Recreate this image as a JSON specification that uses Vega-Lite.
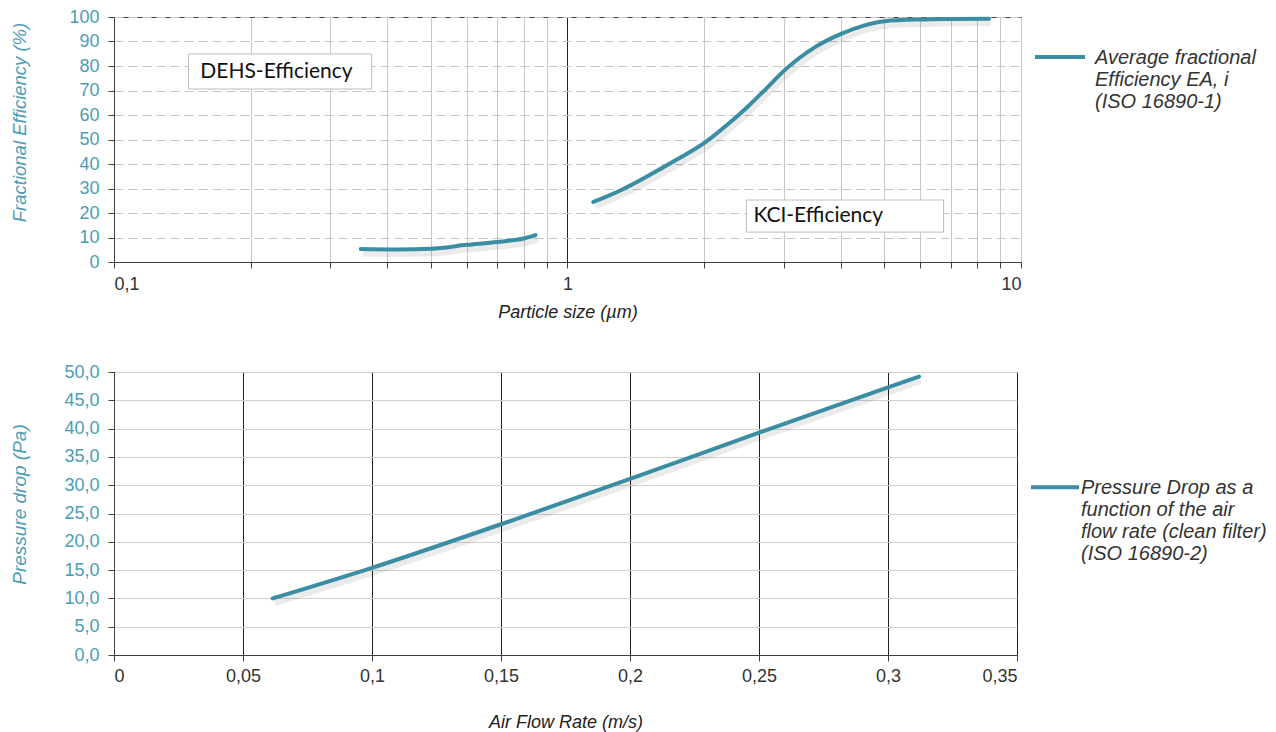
{
  "$schema": "https://vega.github.io/schema/vega-lite/v6.json",
  "padding": {"left": 10, "top": 7, "right": 5, "bottom": 5},
  "background": "white",
  "spacing": 40,
  "datasets": {
    "eff": [
      {"size": 0.35, "eff": 5.3, "segment": "DEHS", "series": "avg"},
      {"size": 0.42, "eff": 5.1, "segment": "DEHS", "series": "avg"},
      {"size": 0.5, "eff": 5.4, "segment": "DEHS", "series": "avg"},
      {"size": 0.6, "eff": 7.0, "segment": "DEHS", "series": "avg"},
      {"size": 0.7, "eff": 8.2, "segment": "DEHS", "series": "avg"},
      {"size": 0.8, "eff": 9.6, "segment": "DEHS", "series": "avg"},
      {"size": 0.85, "eff": 11.0, "segment": "DEHS", "series": "avg"},
      {"size": 1.14, "eff": 24.5, "segment": "KCl", "series": "avg"},
      {"size": 1.3, "eff": 29.0, "segment": "KCl", "series": "avg"},
      {"size": 1.5, "eff": 35.0, "segment": "KCl", "series": "avg"},
      {"size": 1.75, "eff": 42.0, "segment": "KCl", "series": "avg"},
      {"size": 2.0, "eff": 48.5, "segment": "KCl", "series": "avg"},
      {"size": 2.25, "eff": 56.0, "segment": "KCl", "series": "avg"},
      {"size": 2.5, "eff": 63.5, "segment": "KCl", "series": "avg"},
      {"size": 2.75, "eff": 71.0, "segment": "KCl", "series": "avg"},
      {"size": 3.0, "eff": 78.0, "segment": "KCl", "series": "avg"},
      {"size": 3.5, "eff": 87.5, "segment": "KCl", "series": "avg"},
      {"size": 4.0, "eff": 93.0, "segment": "KCl", "series": "avg"},
      {"size": 4.5, "eff": 96.5, "segment": "KCl", "series": "avg"},
      {"size": 5.0, "eff": 98.3, "segment": "KCl", "series": "avg"},
      {"size": 6.0, "eff": 99.0, "segment": "KCl", "series": "avg"},
      {"size": 7.0, "eff": 99.2, "segment": "KCl", "series": "avg"},
      {"size": 8.5, "eff": 99.3, "segment": "KCl", "series": "avg"}
    ],
    "notes": [
      {"x1": 0.146, "x2": 0.37, "y1": 70.6, "y2": 84.9, "tx": 0.155, "ty": 77.6, "label": "DEHS-Efficiency"},
      {"x1": 2.48, "x2": 6.75, "y1": 12.2, "y2": 25.3, "tx": 2.57, "ty": 18.8, "label": "KCI-Efficiency"}
    ],
    "dp": [
      {"flow": 0.0615, "dp": 10.0, "series": "dp"},
      {"flow": 0.1, "dp": 15.4, "series": "dp"},
      {"flow": 0.15, "dp": 23.1, "series": "dp"},
      {"flow": 0.2, "dp": 31.1, "series": "dp"},
      {"flow": 0.25, "dp": 39.3, "series": "dp"},
      {"flow": 0.3, "dp": 47.3, "series": "dp"},
      {"flow": 0.312, "dp": 49.2, "series": "dp"}
    ]
  },
  "config": {
    "view": {"stroke": "#404040", "strokeWidth": 1},
    "axis": {
      "labelFont": "Liberation Sans",
      "titleFont": "Liberation Sans",
      "domainColor": "#404040",
      "tickColor": "#404040",
      "tickSize": 6,
      "labelOverlap": false,
      "titleFontStyle": "italic",
      "titleFontWeight": "normal",
      "labelFontSize": 18
    },
    "legend": {
      "labelFont": "Liberation Sans",
      "labelFontStyle": "italic",
      "labelFontSize": 20,
      "labelColor": "#333333",
      "labelLimit": 300
    }
  },
  "resolve": {"legend": {"color": "independent"}, "scale": {"color": "independent"}},
  "vconcat": [
    {
      "width": 907,
      "height": 245,
      "layer": [
        {
          "data": {"name": "notes"},
          "mark": {"type": "rect", "fill": "white", "stroke": "#bdbdbd", "strokeWidth": 1},
          "encoding": {
            "x": {"field": "x1", "type": "quantitative", "scale": {"type": "log", "domain": [0.1, 10]},
              "axis": {"title": "Particle size (µm)", "titleFontSize": 18, "titleColor": "#222222", "titlePadding": 10,
                "values": [0.1, 0.2, 0.3, 0.4, 0.5, 0.6, 0.7, 0.8, 0.9, 1, 2, 3, 4, 5, 6, 7, 8, 9, 10],
                "labelExpr": "datum.value == 0.1 ? '0,1' : (datum.value == 1 ? '1' : (datum.value == 10 ? '10' : ''))",
                "labelColor": "#333333", "labelPadding": 7, "labelOverlap": false, "grid": true,
                "gridColor": {"condition": {"test": "datum.value == 1", "value": "#222222"}, "value": "#c8c8c8"}}},
            "x2": {"field": "x2"},
            "y": {"field": "y1", "type": "quantitative", "scale": {"domain": [0, 100]},
              "axis": {"title": "Fractional Efficiency (%)", "titleFontSize": 18.5, "titleColor": "#4a9db5", "titlePadding": 39, "titleY": 105,
                "values": [0, 10, 20, 30, 40, 50, 60, 70, 80, 90, 100],
                "labelColor": "#4a9db5", "labelPadding": 9, "labelOverlap": false, "labelBound": false,
                "grid": true, "gridDash": [9, 5], "gridColor": "#c4c4c4"}},
            "y2": {"field": "y2"}
          }
        },
        {
          "data": {"name": "notes"},
          "mark": {"type": "text", "font": "Lato", "fontSize": 21, "color": "#111111", "align": "left", "baseline": "middle"},
          "encoding": {
            "x": {"field": "tx", "type": "quantitative", "scale": {"type": "log", "domain": [0.1, 10]},
              "axis": {"title": "Particle size (µm)", "titleFontSize": 18, "titleColor": "#222222", "titlePadding": 10,
                "values": [0.1, 0.2, 0.3, 0.4, 0.5, 0.6, 0.7, 0.8, 0.9, 1, 2, 3, 4, 5, 6, 7, 8, 9, 10],
                "labelExpr": "datum.value == 0.1 ? '0,1' : (datum.value == 1 ? '1' : (datum.value == 10 ? '10' : ''))",
                "labelColor": "#333333", "labelPadding": 7, "labelOverlap": false, "grid": true,
                "gridColor": {"condition": {"test": "datum.value == 1", "value": "#222222"}, "value": "#c8c8c8"}}},
            "y": {"field": "ty", "type": "quantitative", "scale": {"domain": [0, 100]},
              "axis": {"title": "Fractional Efficiency (%)", "titleFontSize": 18.5, "titleColor": "#4a9db5", "titlePadding": 39, "titleY": 105,
                "values": [0, 10, 20, 30, 40, 50, 60, 70, 80, 90, 100],
                "labelColor": "#4a9db5", "labelPadding": 9, "labelOverlap": false, "labelBound": false,
                "grid": true, "gridDash": [9, 5], "gridColor": "#c4c4c4"}},
            "text": {"field": "label"}
          }
        },
        {
          "data": {"name": "eff"},
          "mark": {"type": "line", "interpolate": "monotone", "strokeWidth": 7, "color": "#000000", "opacity": 0.08, "xOffset": 2, "yOffset": 4},
          "encoding": {
            "x": {"field": "size", "type": "quantitative", "scale": {"type": "log", "domain": [0.1, 10]},
              "axis": {"title": "Particle size (µm)", "titleFontSize": 18, "titleColor": "#222222", "titlePadding": 10,
                "values": [0.1, 0.2, 0.3, 0.4, 0.5, 0.6, 0.7, 0.8, 0.9, 1, 2, 3, 4, 5, 6, 7, 8, 9, 10],
                "labelExpr": "datum.value == 0.1 ? '0,1' : (datum.value == 1 ? '1' : (datum.value == 10 ? '10' : ''))",
                "labelColor": "#333333", "labelPadding": 7, "labelOverlap": false, "grid": true,
                "gridColor": {"condition": {"test": "datum.value == 1", "value": "#222222"}, "value": "#c8c8c8"}}},
            "y": {"field": "eff", "type": "quantitative", "scale": {"domain": [0, 100]},
              "axis": {"title": "Fractional Efficiency (%)", "titleFontSize": 18.5, "titleColor": "#4a9db5", "titlePadding": 39, "titleY": 105,
                "values": [0, 10, 20, 30, 40, 50, 60, 70, 80, 90, 100],
                "labelColor": "#4a9db5", "labelPadding": 9, "labelOverlap": false, "labelBound": false,
                "grid": true, "gridDash": [9, 5], "gridColor": "#c4c4c4"}},
            "detail": {"field": "segment"}
          }
        },
        {
          "data": {"name": "eff"},
          "mark": {"type": "line", "interpolate": "monotone", "strokeWidth": 4, "strokeCap": "round"},
          "encoding": {
            "x": {"field": "size", "type": "quantitative", "scale": {"type": "log", "domain": [0.1, 10]},
              "axis": {"title": "Particle size (µm)", "titleFontSize": 18, "titleColor": "#222222", "titlePadding": 10,
                "values": [0.1, 0.2, 0.3, 0.4, 0.5, 0.6, 0.7, 0.8, 0.9, 1, 2, 3, 4, 5, 6, 7, 8, 9, 10],
                "labelExpr": "datum.value == 0.1 ? '0,1' : (datum.value == 1 ? '1' : (datum.value == 10 ? '10' : ''))",
                "labelColor": "#333333", "labelPadding": 7, "labelOverlap": false, "grid": true,
                "gridColor": {"condition": {"test": "datum.value == 1", "value": "#222222"}, "value": "#c8c8c8"}}},
            "y": {"field": "eff", "type": "quantitative", "scale": {"domain": [0, 100]},
              "axis": {"title": "Fractional Efficiency (%)", "titleFontSize": 18.5, "titleColor": "#4a9db5", "titlePadding": 39, "titleY": 105,
                "values": [0, 10, 20, 30, 40, 50, 60, 70, 80, 90, 100],
                "labelColor": "#4a9db5", "labelPadding": 9, "labelOverlap": false, "labelBound": false,
                "grid": true, "gridDash": [9, 5], "gridColor": "#c4c4c4"}},
            "detail": {"field": "segment"},
            "color": {
              "field": "series", "type": "nominal",
              "scale": {"domain": ["avg"], "range": ["#3a8da3"]},
              "legend": {
                "title": null,
                "orient": "none",
                "legendX": 919,
                "legendY": 20,
                "symbolType": "M-1,-0.28H1",
                "symbolSize": 2500,
                "symbolStrokeWidth": 4,
                "labelOffset": 8,
                "labelBaseline": "alphabetic",
                "labelExpr": "['Average fractional', 'Efficiency EA, i', '(ISO 16890-1)']"
              }
            }
          }
        }
      ]
    },
    {
      "width": 903,
      "height": 283,
      "data": {"name": "dp"},
      "encoding": {
        "x": {"field": "flow", "type": "quantitative", "scale": {"domain": [0, 0.35], "nice": false},
          "axis": {"title": "Air Flow Rate (m/s)", "titleFontSize": 18, "titleColor": "#222222", "titlePadding": 28,
            "values": [0, 0.05, 0.1, 0.15, 0.2, 0.25, 0.3, 0.35],
            "labelExpr": "replace(format(datum.value, '~g'), '.', ',')",
            "labelColor": "#333333", "labelPadding": 6, "labelOverlap": false, "grid": true, "gridColor": "#222222"}},
        "y": {"field": "dp", "type": "quantitative", "scale": {"domain": [0, 50]},
          "axis": {"title": "Pressure drop (Pa)", "titleFontSize": 19, "titleColor": "#4a9db5", "titlePadding": 34, "titleY": 132,
            "values": [0, 5, 10, 15, 20, 25, 30, 35, 40, 45, 50],
            "labelExpr": "replace(format(datum.value, '.1f'), '.', ',')",
            "labelColor": "#4a9db5", "labelPadding": 9, "labelOverlap": false, "labelBound": false,
            "grid": true, "gridColor": "#d0d0d0"}}
      },
      "layer": [
        {
          "mark": {"type": "line", "interpolate": "monotone", "strokeWidth": 7, "color": "#000000", "opacity": 0.08, "xOffset": 2, "yOffset": 4}
        },
        {
          "mark": {"type": "line", "interpolate": "monotone", "strokeWidth": 4, "strokeCap": "round"},
          "encoding": {
            "color": {
              "field": "series", "type": "nominal",
              "scale": {"domain": ["dp"], "range": ["#3a8da3"]},
              "legend": {
                "title": null,
                "orient": "none",
                "legendX": 915,
                "legendY": 96,
                "symbolType": "M-1,-0.28H1",
                "symbolSize": 2304,
                "symbolStrokeWidth": 4,
                "labelOffset": 0,
                "labelFontSize": 20,
                "labelBaseline": "alphabetic",
                "labelExpr": "['Pressure Drop as a', 'function of the air', 'flow rate (clean filter)', '(ISO 16890-2)']"
              }
            }
          }
        }
      ]
    }
  ]
}
